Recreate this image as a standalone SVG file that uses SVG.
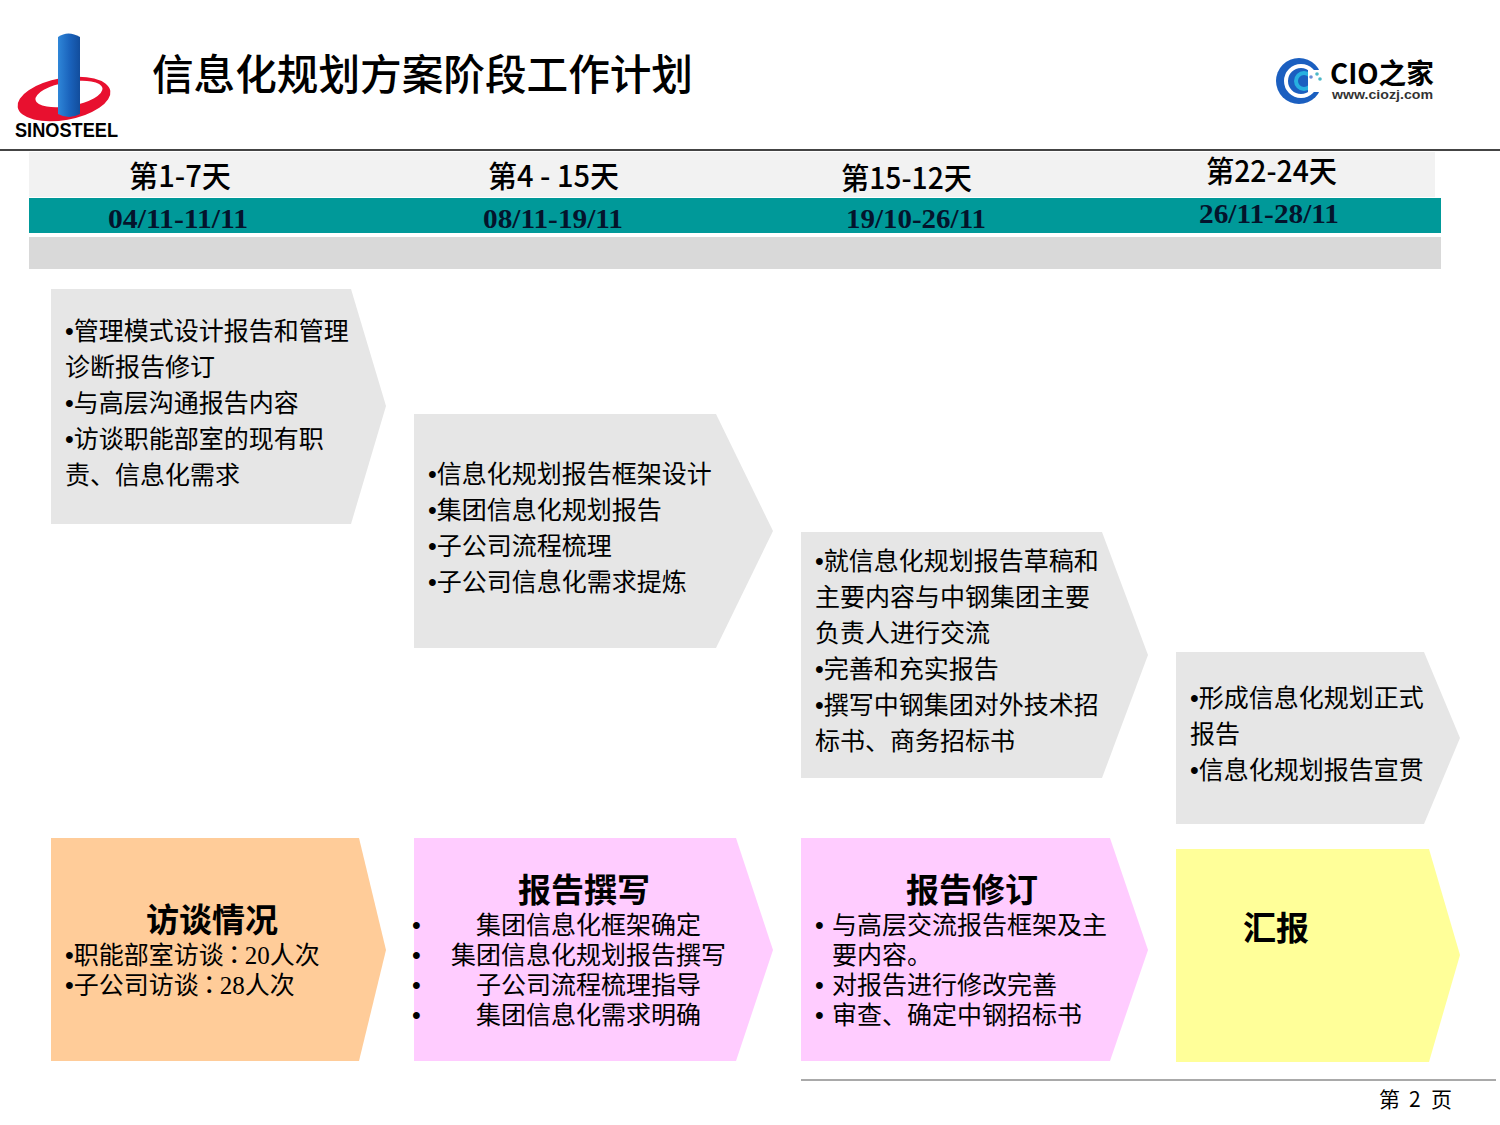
<svg xmlns="http://www.w3.org/2000/svg" width="1500" height="1125" viewBox="0 0 1500 1125">
<style>
text{font-family:"Noto Sans CJK SC","Liberation Sans",sans-serif;fill:#000}
.b{font-size:25px}
.m{font-family:"Liberation Sans",sans-serif;font-size:25px}
.r{font-family:"Liberation Serif",serif}
.c{font-family:"Noto Sans CJK TC",sans-serif}
.h{font-size:33px;font-weight:700}
.d{font-size:30px;font-weight:500}
.s{font-family:"Liberation Serif","Noto Sans CJK SC",serif;font-size:28px;font-weight:700;fill:#04142c}
.g{fill:#e6e6e6}.o{fill:#ffcc99}.p{fill:#ffccff}.y{fill:#ffff99}
</style>
<defs>
<linearGradient id="col" x1="0" x2="1" y1="0" y2="0"><stop offset="0" stop-color="#2f86d8"/><stop offset="0.55" stop-color="#1a62bb"/><stop offset="1" stop-color="#124d9c"/></linearGradient>
</defs>
<rect width="1500" height="1125" fill="#fff"/>
<g id="logo">
<ellipse cx="64" cy="99" rx="47" ry="21" transform="rotate(-10 64 99)" fill="#e8102f"/>
<ellipse cx="69" cy="94" rx="34" ry="12" transform="rotate(-10 69 94)" fill="#fff"/>
<path d="M58 37Q68 30 80 37V114Q69 120 58 114Z" fill="url(#col)"/>
<text x="15" y="137" font-size="21" font-weight="700" textLength="103" lengthAdjust="spacingAndGlyphs" style="font-family:'Liberation Sans',sans-serif">SINOSTEEL</text>
</g>
<text id="title" x="152" y="90" font-size="41.6" font-weight="500" textLength="541" lengthAdjust="spacingAndGlyphs">信息化规划方案阶段工作计划</text>
<g id="cio-logo">
<circle cx="1299" cy="81" r="23" fill="#1b5fc0"/>
<circle cx="1301" cy="81" r="15" fill="none" stroke="#fff" stroke-width="4"/>
<circle cx="1304" cy="81" r="8" fill="none" stroke="#27b0e0" stroke-width="4"/>
<rect x="1308" y="70" width="16" height="22" fill="#fff"/>
<circle cx="1311" cy="77" r="1.8" fill="#6a8fd8"/><circle cx="1317" cy="74" r="1.8" fill="#4bb8c8"/><circle cx="1320" cy="79" r="1.8" fill="#4bb8c8"/>
<text x="1330" y="84" font-size="28" font-weight="700" textLength="104" lengthAdjust="spacingAndGlyphs" fill="#222">CIO之家</text>
<text x="1332" y="99" font-size="13" font-weight="700" textLength="101" lengthAdjust="spacingAndGlyphs" style="font-family:'Liberation Sans',sans-serif;fill:#333">www.ciozj.com</text>
</g>
<path id="rule" d="M0 150H1500" stroke="#444" stroke-width="2"/>
<g id="timeline">
<rect x="29" y="152" width="1406" height="45" fill="#f2f2f2"/>
<rect x="29" y="198" width="1412" height="35" fill="#009999"/>
<rect x="29" y="237" width="1412" height="32" fill="#d9d9d9"/>
<text class="d" x="129" y="187" textLength="102" lengthAdjust="spacingAndGlyphs">第1-7天</text>
<text class="d" x="488" y="187" textLength="131" lengthAdjust="spacingAndGlyphs">第4 - 15天</text>
<text class="d" x="841" y="189" textLength="131" lengthAdjust="spacingAndGlyphs">第15-12天</text>
<text class="d" x="1206" y="182" textLength="131" lengthAdjust="spacingAndGlyphs">第22-24天</text>
<text class="s" x="108" y="228" textLength="140" lengthAdjust="spacingAndGlyphs">04/11-11/11</text>
<text class="s" x="483" y="228" textLength="140" lengthAdjust="spacingAndGlyphs">08/11-19/11</text>
<text class="s" x="846" y="228" textLength="140" lengthAdjust="spacingAndGlyphs">19/10-26/11</text>
<text class="s" x="1199" y="223" textLength="140" lengthAdjust="spacingAndGlyphs">26/11-28/11</text>
</g>
<g id="step1">
<polygon class="g" points="51,289 351,289 386,406 351,524 51,524"/>
<text class="b" x="65" y="340"><tspan class="m">•</tspan>管理模式设计报告和管理</text>
<text class="b" x="65" y="376">诊断报告修订</text>
<text class="b" x="65" y="412"><tspan class="m">•</tspan>与高层沟通报告内容</text>
<text class="b" x="65" y="448"><tspan class="m">•</tspan>访谈职能部室的现有职</text>
<text class="b" x="65" y="484">责、信息化需求</text>
</g>
<g id="step2">
<polygon class="g" points="414,414 716,414 773,531 716,648 414,648"/>
<text class="b" x="428" y="483"><tspan class="m">•</tspan>信息化规划报告框架设计</text>
<text class="b" x="428" y="519"><tspan class="m">•</tspan>集团信息化规划报告</text>
<text class="b" x="428" y="555"><tspan class="m">•</tspan>子公司流程梳理</text>
<text class="b" x="428" y="591"><tspan class="m">•</tspan>子公司信息化需求提炼</text>
</g>
<g id="step3">
<polygon class="g" points="801,532 1102,532 1148,655 1102,778 801,778"/>
<text class="b" x="815" y="570"><tspan class="m">•</tspan>就信息化规划报告草稿和</text>
<text class="b" x="815" y="606">主要内容与中钢集团主要</text>
<text class="b" x="815" y="642">负责人进行交流</text>
<text class="b" x="815" y="678"><tspan class="m">•</tspan>完善和充实报告</text>
<text class="b" x="815" y="714"><tspan class="m">•</tspan>撰写中钢集团对外技术招</text>
<text class="b" x="815" y="750">标书、商务招标书</text>
</g>
<g id="step4">
<polygon class="g" points="1176,652 1424,652 1460,738 1424,824 1176,824"/>
<text class="b" x="1190" y="707"><tspan class="m">•</tspan>形成信息化规划正式</text>
<text class="b" x="1190" y="743">报告</text>
<text class="b" x="1190" y="779"><tspan class="m">•</tspan>信息化规划报告宣贯</text>
</g>
<g id="result1">
<polygon class="o" points="51,838 359,838 386,950 359,1061 51,1061"/>
<text class="h" x="146" y="932">访谈情况</text>
<text class="b" x="65" y="964"><tspan class="m">•</tspan>职能部室访谈<tspan class="c" dx="-2">：</tspan><tspan class="r" dx="-2">20</tspan>人次</text>
<text class="b" x="65" y="994"><tspan class="m">•</tspan>子公司访谈<tspan class="c" dx="-2">：</tspan><tspan class="r" dx="-2">28</tspan>人次</text>
</g>
<g id="result2">
<polygon class="p" points="414,838 736,838 773,950 736,1061 414,1061"/>
<text class="h" x="518" y="902">报告撰写</text>
<text class="m" x="412" y="934">•</text><text class="b" x="476" y="934">集团信息化框架确定</text>
<text class="m" x="412" y="964">•</text><text class="b" x="451" y="964">集团信息化规划报告撰写</text>
<text class="m" x="412" y="994">•</text><text class="b" x="476" y="994">子公司流程梳理指导</text>
<text class="m" x="412" y="1024">•</text><text class="b" x="476" y="1024">集团信息化需求明确</text>
</g>
<g id="result3">
<polygon class="p" points="801,838 1110,838 1148,950 1110,1061 801,1061"/>
<text class="h" x="906" y="902">报告修订</text>
<text class="m" x="815" y="934">•</text><text class="b" x="832" y="934">与高层交流报告框架及主</text>
<text class="b" x="832" y="964">要内容。</text>
<text class="m" x="815" y="994">•</text><text class="b" x="832" y="994">对报告进行修改完善</text>
<text class="m" x="815" y="1024">•</text><text class="b" x="832" y="1024">审查、确定中钢招标书</text>
</g>
<g id="result4">
<polygon class="y" points="1176,849 1429,849 1460,955 1429,1062 1176,1062"/>
<text class="h" x="1243" y="940">汇报</text>
</g>
<path id="footer-rule" d="M801 1080H1496" stroke="#555" stroke-width="1"/>
<text id="page" y="1107" font-size="21"><tspan x="1379">第</tspan><tspan x="1409">2</tspan><tspan x="1431">页</tspan></text>
</svg>
